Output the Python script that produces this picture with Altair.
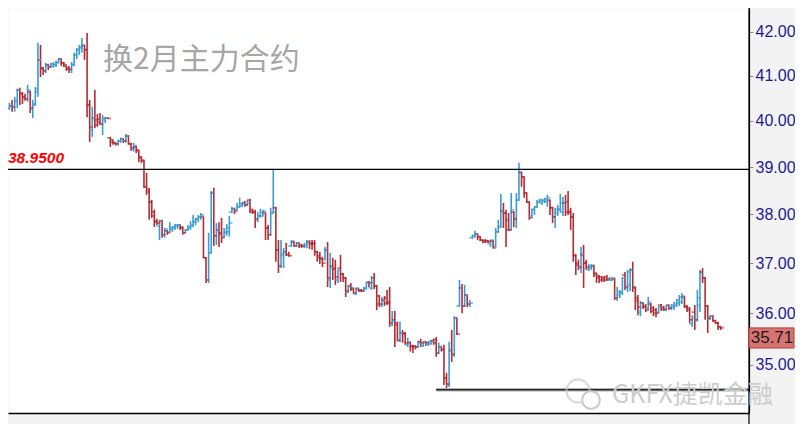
import altair as alt
import pandas as pd

# ---- OHLC values (one entry per bar, left to right) ----
open_ = [
    40.28, 40.33, 40.31, 40.42, 40.68, 40.60, 40.53, 40.48, 40.64, 40.26, 40.37, 40.64, 41.36, 41.15, 41.11, 41.25, 41.20, 41.22, 41.25, 41.31,
    41.38, 41.29, 41.22, 41.18, 41.13, 41.25, 41.47, 41.59, 41.63, 41.68, 41.59, 40.35, 39.80, 40.06, 40.02, 40.04, 39.93, 40.02, 40.06,
    39.63, 39.54, 39.52, 39.50, 39.56, 39.61, 39.56, 39.67, 39.50, 39.37, 39.43, 39.35, 39.20, 39.13, 38.58, 38.52, 38.26, 38.05, 37.86, 37.76,
    37.86, 37.58, 37.66, 37.64, 37.68, 37.72, 37.76, 37.78, 37.74, 37.62, 37.68, 37.72, 37.76, 37.84, 37.91, 37.95, 37.95,
    37.11, 36.66, 37.21, 38.45, 37.56, 37.68, 37.62, 37.54, 37.62, 37.64, 38.05, 38.12, 38.10, 38.16, 38.18, 38.24, 38.20, 38.30, 38.10, 38.05,
    37.89, 37.97, 37.97, 38.03, 37.72, 37.58, 38.03, 38.14, 37.27, 36.94, 37.15, 37.23, 37.17, 37.35, 37.43, 37.35, 37.41, 37.37, 37.35, 37.35,
    37.43, 37.41, 37.41, 37.23, 37.15, 37.09, 37.07, 37.27, 36.66, 36.94, 36.90, 36.66, 36.90, 36.78, 36.70, 36.42, 36.54, 36.48, 36.38, 36.48,
    36.46, 36.44, 36.48, 36.62, 36.50, 36.70, 36.54, 36.34, 36.16, 36.26, 36.30, 36.22, 35.77, 35.87,
    35.81, 35.48, 35.61, 35.61, 35.38, 35.42, 35.36, 35.36, 35.34, 35.44, 35.36, 35.44, 35.38, 35.40, 35.46, 35.48, 35.22, 35.34, 35.29, 34.74,
    34.61, 35.27, 35.17, 35.90, 36.14, 36.50, 36.14, 36.36, 36.18,
    37.52, 37.56, 37.60, 37.54, 37.47, 37.46, 37.46, 37.39, 37.45, 37.35, 37.64, 37.74, 38.07, 38.03, 37.89, 37.68, 38.05, 37.89, 38.30, 38.88,
    38.79, 38.45, 38.26, 37.97, 38.10, 38.16, 38.26, 38.24, 38.28, 38.26, 38.30, 38.14, 37.95, 38.03, 38.10, 38.05, 38.24, 38.26, 38.05, 37.95,
    37.15, 37.00, 36.90,
    37.17, 37.00, 36.88, 36.90, 36.94, 36.78, 36.74, 36.72, 36.70, 36.72, 36.66, 36.66, 36.68, 36.30, 36.36, 36.40, 36.76, 36.50, 36.56, 36.86,
    36.50, 36.30, 36.02, 36.20, 36.14, 36.10, 36.18, 36.10, 36.06, 36.02, 36.16, 36.12, 36.06, 36.16, 36.10, 36.12, 36.14, 36.20, 36.22, 36.32,
    36.14, 36.10, 35.79, 36.02, 35.87, 36.16, 36.82, 36.70, 36.14, 35.88, 35.94, 35.85, 35.81, 35.73,
]
high = [
    40.40, 40.46, 40.53, 40.71, 40.73, 40.64, 40.60, 40.80, 40.66, 40.46, 40.75, 41.75, 41.70, 41.20, 41.29, 41.27, 41.29, 41.31, 41.34, 41.40,
    41.40, 41.31, 41.23, 41.22, 41.31, 41.52, 41.63, 41.70, 41.86, 41.70, 41.97, 40.46, 40.31, 40.68, 40.15, 40.17, 40.13, 40.08, 40.08,
    39.65, 39.59, 39.54, 39.59, 39.63, 39.62, 39.71, 39.69, 39.52, 39.52, 39.46, 39.36, 39.22, 39.15, 38.88, 38.56, 38.30, 38.10, 37.91, 37.89,
    37.89, 37.72, 37.68, 37.84, 37.76, 37.80, 37.80, 37.79, 37.75, 37.70, 37.78, 37.86, 37.99, 37.93, 37.99, 38.03, 37.96,
    37.12, 37.62, 38.49, 38.56, 37.82, 37.84, 37.93, 37.72, 37.80, 37.97, 38.16, 38.14, 38.24, 38.35, 38.26, 38.28, 38.30, 38.33, 38.12, 38.10,
    38.05, 38.12, 38.10, 38.04, 37.78, 38.14, 38.95, 38.16, 37.47, 37.47, 37.31, 37.41, 37.23, 37.47, 37.45, 37.43, 37.42, 37.39, 37.41, 37.47,
    37.47, 37.47, 37.47, 37.25, 37.23, 37.13, 37.33, 37.43, 37.21, 37.11, 37.07, 36.87, 37.17, 36.80, 36.72, 36.56, 36.60, 36.49, 36.51, 36.49,
    36.48, 36.52, 36.61, 36.64, 36.74, 36.80, 36.56, 36.36, 36.32, 36.34, 36.46, 36.52, 36.04, 36.04,
    35.83, 35.83, 35.67, 35.63, 35.52, 35.44, 35.38, 35.37, 35.46, 35.50, 35.44, 35.45, 35.46, 35.48, 35.50, 35.53, 35.42, 35.36, 35.38, 34.84,
    35.44, 35.67, 35.94, 35.92, 36.66, 36.58, 36.56, 36.37, 36.26,
    37.58, 37.66, 37.61, 37.55, 37.48, 37.49, 37.47, 37.48, 37.47, 37.72, 37.89, 38.43, 38.24, 38.10, 38.03, 38.45, 38.07, 38.45, 39.09, 38.90,
    38.80, 38.46, 38.27, 38.12, 38.16, 38.30, 38.33, 38.33, 38.35, 38.41, 38.31, 38.16, 38.14, 38.20, 38.43, 38.37, 38.41, 38.49, 38.14, 38.03,
    37.17, 37.07, 37.33,
    37.37, 37.07, 36.98, 36.98, 36.96, 36.80, 36.76, 36.74, 36.74, 36.76, 36.72, 36.72, 36.70, 36.52, 36.46, 36.72, 36.82, 36.86, 36.90, 37.03,
    36.52, 36.36, 36.24, 36.22, 36.18, 36.32, 36.20, 36.14, 36.10, 36.14, 36.18, 36.14, 36.16, 36.17, 36.18, 36.22, 36.28, 36.36, 36.40, 36.34,
    36.16, 36.12, 35.96, 36.16, 36.46, 36.86, 36.90, 36.72, 36.16, 35.96, 35.96, 35.87, 35.83, 35.75,
]
low = [
    40.24, 40.20, 40.20, 40.28, 40.35, 40.37, 40.44, 40.42, 40.17, 40.06, 40.33, 40.53, 40.97, 41.02, 41.06, 41.13, 41.18, 41.18, 41.20, 41.29,
    41.22, 41.20, 41.11, 41.06, 41.06, 41.22, 41.38, 41.47, 41.52, 41.36, 40.08, 39.54, 39.65, 39.84, 39.87, 39.91, 39.69, 39.95, 40.04,
    39.43, 39.48, 39.46, 39.46, 39.52, 39.52, 39.52, 39.48, 39.35, 39.33, 39.30, 39.11, 39.09, 38.56, 38.41, 37.89, 37.93, 37.74, 37.78, 37.47,
    37.52, 37.52, 37.58, 37.63, 37.64, 37.68, 37.70, 37.68, 37.58, 37.61, 37.66, 37.68, 37.74, 37.78, 37.84, 37.89, 37.10,
    36.60, 36.60, 37.20, 37.35, 37.37, 37.33, 37.41, 37.52, 37.56, 37.54, 38.03, 38.01, 38.09, 38.14, 38.16, 38.16, 38.18, 38.03, 38.01, 37.72,
    37.84, 37.93, 37.95, 37.47, 37.47, 37.56, 38.02, 37.03, 36.80, 36.90, 36.90, 37.15, 37.13, 37.33, 37.33, 37.33, 37.31, 37.31, 37.31, 37.31,
    37.29, 37.27, 37.15, 37.03, 36.98, 36.92, 37.06, 36.52, 36.50, 36.66, 36.56, 36.60, 36.62, 36.62, 36.32, 36.40, 36.44, 36.39, 36.36, 36.42,
    36.42, 36.42, 36.47, 36.52, 36.46, 36.48, 36.06, 36.12, 36.12, 36.14, 36.16, 35.73, 35.75, 35.34,
    35.45, 35.44, 35.42, 35.38, 35.34, 35.25, 35.22, 35.29, 35.33, 35.34, 35.34, 35.36, 35.36, 35.38, 35.38, 35.15, 35.21, 35.25, 34.61, 34.52,
    34.57, 35.05, 35.15, 35.57, 36.12, 36.00, 36.12, 36.12, 36.12,
    37.49, 37.52, 37.47, 37.45, 37.41, 37.41, 37.41, 37.33, 37.30, 37.33, 37.62, 37.73, 37.72, 37.33, 37.66, 37.67, 37.74, 37.72, 38.29, 38.58,
    38.35, 38.24, 37.89, 37.93, 37.99, 38.14, 38.24, 38.20, 38.24, 38.16, 37.99, 37.82, 37.72, 37.97, 38.05, 37.97, 37.97, 37.99, 37.68, 37.03,
    36.76, 36.86, 36.80,
    36.50, 36.86, 36.84, 36.86, 36.72, 36.60, 36.60, 36.62, 36.62, 36.64, 36.64, 36.64, 36.26, 36.24, 36.30, 36.36, 36.46, 36.42, 36.44, 36.42,
    36.06, 35.96, 35.94, 36.08, 36.02, 36.06, 36.00, 35.94, 35.92, 36.00, 36.04, 36.04, 36.04, 36.06, 36.06, 36.06, 36.12, 36.14, 36.18, 36.10,
    36.02, 35.81, 35.73, 35.67, 35.83, 36.02, 36.60, 35.87, 35.61, 35.87, 35.83, 35.79, 35.67, 35.67,
]
close = [
    40.33, 40.31, 40.46, 40.68, 40.60, 40.51, 40.48, 40.68, 40.28, 40.35, 40.71, 41.36, 41.18, 41.11, 41.22, 41.20, 41.27, 41.25, 41.29, 41.38,
    41.29, 41.25, 41.15, 41.15, 41.25, 41.47, 41.59, 41.65, 41.70, 41.59, 40.35, 39.87, 40.06, 39.91, 39.97, 39.93, 40.06, 40.06, 40.05,
    39.59, 39.52, 39.50, 39.56, 39.61, 39.56, 39.67, 39.50, 39.41, 39.46, 39.37, 39.22, 39.15, 38.58, 38.47, 38.26, 37.97, 37.84, 37.82, 37.86,
    37.58, 37.70, 37.62, 37.72, 37.74, 37.78, 37.78, 37.72, 37.62, 37.68, 37.74, 37.78, 37.86, 37.91, 37.95, 37.99, 37.11,
    36.66, 37.21, 38.45, 37.56, 37.68, 37.60, 37.52, 37.64, 37.72, 37.82, 38.12, 38.07, 38.16, 38.22, 38.22, 38.20, 38.24, 38.05, 38.05, 37.91,
    37.97, 38.05, 38.07, 37.72, 37.58, 38.03, 38.05, 37.27, 36.94, 37.19, 37.23, 37.17, 37.15, 37.45, 37.35, 37.41, 37.35, 37.35, 37.39, 37.43,
    37.39, 37.39, 37.23, 37.11, 37.09, 37.00, 37.27, 36.70, 36.90, 36.88, 36.72, 36.86, 36.78, 36.70, 36.44, 36.52, 36.50, 36.40, 36.50, 36.44,
    36.44, 36.50, 36.60, 36.60, 36.62, 36.54, 36.18, 36.18, 36.24, 36.20, 36.20, 35.81, 35.85, 35.77,
    35.46, 35.61, 35.59, 35.42, 35.44, 35.34, 35.34, 35.34, 35.42, 35.42, 35.42, 35.42, 35.44, 35.44, 35.42, 35.22, 35.34, 35.29, 34.74, 34.63,
    35.27, 35.20, 35.90, 35.59, 36.50, 36.14, 36.36, 36.18, 36.20,
    37.56, 37.60, 37.54, 37.47, 37.43, 37.45, 37.44, 37.47, 37.31, 37.64, 37.74, 38.07, 38.03, 37.68, 37.68, 38.10, 37.91, 38.30, 38.90, 38.79,
    38.45, 38.26, 37.93, 38.11, 38.15, 38.26, 38.30, 38.30, 38.33, 38.35, 38.14, 37.95, 38.10, 38.12, 38.24, 38.24, 38.05, 38.05, 37.95, 37.17,
    36.96, 36.92, 37.19,
    37.00, 36.92, 36.94, 36.96, 36.80, 36.70, 36.66, 36.66, 36.66, 36.68, 36.68, 36.70, 36.30, 36.42, 36.42, 36.70, 36.52, 36.82, 36.86, 36.52,
    36.24, 36.12, 36.20, 36.12, 36.06, 36.22, 36.04, 36.00, 36.00, 36.12, 36.08, 36.08, 36.14, 36.10, 36.16, 36.18, 36.26, 36.32, 36.34, 36.12,
    36.06, 35.87, 35.90, 35.87, 36.30, 36.80, 36.70, 36.14, 35.90, 35.94, 35.85, 35.81, 35.73, 35.71,
]

tick_values = [35, 36, 37, 38, 39, 40, 41, 42]
resistance = 38.95
note_text = "换2月主力合约"
watermark_text = "GKFX捷凯金融"

BLUE = "#3a9bd5"
RED = "#b52a2f"

n = len(close)
direction = ["up" if c >= o else "down" for o, c in zip(open_, close)]
bars = pd.DataFrame({"i": list(range(n)), "open": open_, "high": high,
                     "low": low, "close": close, "dir": direction})

min_low = min(low)
i_min = low.index(min_low)

W, H = 741, 405
RIGHT = 46
BOTTOM = 11

x_scale = alt.Scale(domain=[-0.58, 285.96], nice=False, zero=False)
y_scale = alt.Scale(type="log", domain=[34.083, 42.551], nice=False, zero=False)
x_axis = alt.Axis(labels=False, ticks=False, grid=False, title=None,
                  domainColor="black", domainWidth=1.5)
y_axis = alt.Axis(orient="right", values=tick_values, format=".2f", grid=False, title=None,
                  labelFont="Liberation Sans", labelFontSize=16, labelColor="#1c1c8f",
                  tickColor="#8c8c8c", tickSize=4, tickWidth=1, labelPadding=2,
                  domainColor="black", domainWidth=1.2)
color = alt.Color("dir:N", scale=alt.Scale(domain=["up", "down"], range=[BLUE, RED]), legend=None)
X = alt.X("i:Q", scale=x_scale, axis=x_axis)

base = alt.Chart(bars)
hl = base.mark_rule(strokeWidth=1.6).encode(
    x=X, y=alt.Y("low:Q", scale=y_scale, axis=y_axis), y2="high:Q", color=color)
op = base.mark_tick(orient="horizontal", size=3.2, thickness=1.6, xOffset=-1.6).encode(
    x=X, y=alt.Y("open:Q", scale=y_scale, axis=y_axis), color=color)
cl = base.mark_tick(orient="horizontal", size=3.2, thickness=1.6, xOffset=1.6).encode(
    x=X, y=alt.Y("close:Q", scale=y_scale, axis=y_axis), color=color)

level_df = pd.DataFrame({"level": [resistance], "label": [f"{resistance:.4f}"]})
level_rule = alt.Chart(level_df).mark_rule(color="black", strokeWidth=1.3).encode(
    y=alt.Y("level:Q", scale=y_scale, axis=y_axis))
level_text = alt.Chart(level_df).mark_text(
    align="left", baseline="bottom", dy=-3, font="Liberation Sans", fontSize=15.5,
    fontStyle="italic", fontWeight="bold", color="#ff0000").encode(
    x=alt.value(0), y=alt.Y("level:Q", scale=y_scale, axis=y_axis), text="label:N")

low_df = pd.DataFrame({"i": [i_min - 4], "level": [min_low]})
low_shadow = alt.Chart(low_df).mark_rule(color="#b4b4b4", strokeWidth=3.5).encode(
    x=X, x2=alt.value(W), y=alt.Y("level:Q", scale=y_scale, axis=y_axis))
low_line = alt.Chart(low_df).mark_rule(color="#2a2a2a", strokeWidth=1.4).encode(
    x=X, x2=alt.value(W), y=alt.Y("level:Q", scale=y_scale, axis=y_axis))

border = alt.Chart(pd.DataFrame({"a": [0]})).mark_rule(color="black", strokeWidth=1.2).encode(
    x=alt.value(W), y=alt.value(0), y2=alt.value(H + BOTTOM))

last_df = pd.DataFrame({"price": [close[-1]], "label": [f"{close[-1]:.2f}"]})
box = alt.Chart(last_df).mark_rect(fill="#d87470", stroke="#b03a3a", strokeWidth=1).encode(
    x=alt.value(W), x2=alt.value(W + RIGHT - 1),
    y=alt.Y("price:Q", scale=y_scale, axis=y_axis), y2=alt.value(340))
box_text = alt.Chart(last_df).mark_text(
    font="Liberation Sans", fontSize=17, color="#1a1a1a", align="center",
    baseline="middle", dy=10).encode(
    x=alt.value(W + RIGHT / 2), y=alt.Y("price:Q", scale=y_scale, axis=y_axis), text="label:N")

note = alt.Chart(pd.DataFrame({"t": [note_text]})).mark_text(
    font="Noto Sans CJK SC", fontSize=30, color="#a6a6a6", align="left", baseline="middle").encode(
    x=alt.value(95), y=alt.value(52), text="t:N")

wm = alt.Chart(pd.DataFrame({"t": [watermark_text]})).mark_text(
    font="Noto Sans CJK SC", fontSize=25, color="#cdcdcd", align="left", baseline="middle").encode(
    x=alt.value(604), y=alt.value(387), text="t:N")
icon_big = alt.Chart(pd.DataFrame({"a": [0]})).mark_point(
    shape="circle", filled=False, stroke="#c8c8c8", strokeWidth=2, size=530).encode(
    x=alt.value(570), y=alt.value(383))
icon_small = alt.Chart(pd.DataFrame({"a": [0]})).mark_point(
    shape="circle", filled=True, fill="white", stroke="#c8c8c8", strokeWidth=2, size=314, opacity=1).encode(
    x=alt.value(583), y=alt.value(392))

chart = alt.layer(
    hl, op, cl, level_rule, level_text, low_shadow, low_line, border,
    box, box_text, note, wm, icon_big, icon_small
).properties(
    width=W, height=H,
    autosize=alt.AutoSizeParams(type="none"),
    padding={"left": 0, "top": 0, "right": RIGHT, "bottom": BOTTOM},
    background="#f3f3f3",
).configure_view(fill="white", stroke="transparent")

chart.save("out.html", embed_options={"renderer": "svg", "actions": False})
